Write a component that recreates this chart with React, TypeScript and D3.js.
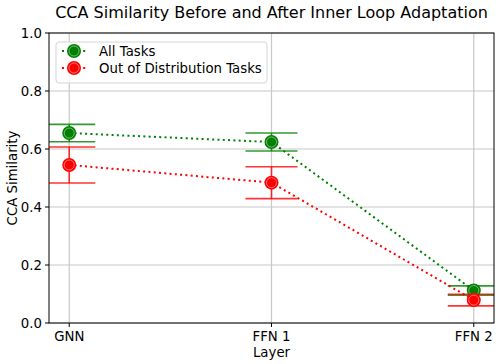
import React from "react";
import * as d3 from "d3";

const layers = ["GNN", "FFN 1", "FFN 2"];
const allTasksMean = [0.655, 0.624, 0.112];
const allTasksErr = [0.03, 0.031, 0.016];
const oodMean = [0.545, 0.484, 0.079];
const oodErr = [0.062, 0.055, 0.02];
const yTicks = [0, 0.2, 0.4, 0.6, 0.8, 1.0];
const seriesNames = ["All Tasks", "Out of Distribution Tasks"];
const seriesColors = ["#008000", "#ff0000"];

const W = 496, H = 364;
const left = 49, right = 494, top = 33, bottom = 323;
const FONT = "DejaVu Sans, sans-serif";
const FS = 13.3;

export default function App() {
  const x = d3.scaleLinear().domain([-0.1, 2.1]).range([left, right]);
  const y = d3.scaleLinear().domain([0, 1]).range([bottom, top]);
  const line = d3.line<number>().x((_, i) => x(i)).y((d) => y(d));
  const series = [
    { name: seriesNames[0], mean: allTasksMean, err: allTasksErr, color: seriesColors[0] },
    { name: seriesNames[1], mean: oodMean, err: oodErr, color: seriesColors[1] },
  ];
  const cap = 26;
  const marker = (cx: number, cy: number, color: string, key?: any) => (
    <g key={key}>
      <circle cx={cx} cy={cy} r={7} fill={color} />
      <circle cx={cx} cy={cy} r={5} fill="none" stroke="#ffffff" strokeOpacity={0.55} strokeWidth={0.8} />
    </g>
  );
  return (
    <div style={{ position: "absolute", left: 0, top: 0 }}>
      <svg width={W} height={H} style={{ display: "block", fontFamily: FONT }}>
        <rect width={W} height={H} fill="#fff" />
        <defs>
          <clipPath id="ax">
            <rect x={left} y={top} width={right - left} height={bottom - top} />
          </clipPath>
        </defs>
        {yTicks.map((t) => (
          <line key={"gy" + t} x1={left} x2={right} y1={y(t)} y2={y(t)} stroke="#c8c8c8" strokeWidth={1.2} />
        ))}
        {layers.map((l, i) => (
          <line key={"gx" + l} x1={x(i)} x2={x(i)} y1={top} y2={bottom} stroke="#c8c8c8" strokeWidth={1.2} />
        ))}
        <g clipPath="url(#ax)">
          {series.map((s) => (
            <g key={s.name}>
              <path d={line(s.mean) || ""} fill="none" stroke={s.color} strokeWidth={2} strokeDasharray="2 3.3" />
              {s.mean.map((m, i) => (
                <g key={i} stroke={s.color} strokeOpacity={0.8} strokeWidth={1.6}>
                  <line x1={x(i)} x2={x(i)} y1={y(m - s.err[i])} y2={y(m + s.err[i])} />
                  <line x1={x(i) - cap} x2={x(i) + cap} y1={y(m - s.err[i])} y2={y(m - s.err[i])} />
                  <line x1={x(i) - cap} x2={x(i) + cap} y1={y(m + s.err[i])} y2={y(m + s.err[i])} />
                </g>
              ))}
              {s.mean.map((m, i) => marker(x(i), y(m), s.color, "m" + i))}
            </g>
          ))}
        </g>
        <rect x={left} y={top} width={right - left} height={bottom - top} fill="none" stroke="#000" strokeWidth={1} />
        {yTicks.map((t) => (
          <g key={"ty" + t}>
            <line x1={left - 4} x2={left} y1={y(t)} y2={y(t)} stroke="#000" />
            <text x={left - 7} y={y(t)} dy="0.36em" textAnchor="end" fontSize={FS} fill="#000">
              {d3.format(".1f")(t)}
            </text>
          </g>
        ))}
        {layers.map((l, i) => (
          <g key={"tx" + l}>
            <line x1={x(i)} x2={x(i)} y1={bottom} y2={bottom + 4} stroke="#000" />
            <text x={x(i)} y={bottom + 18} textAnchor="middle" fontSize={FS} fill="#000">
              {l}
            </text>
          </g>
        ))}
        <text x={(left + right) / 2} y={357} textAnchor="middle" fontSize={FS} fill="#000">Layer</text>
        <text transform={`translate(17,${(top + bottom) / 2}) rotate(-90)`} textAnchor="middle" fontSize={FS} fill="#000">
          CCA Similarity
        </text>
        <text x={(left + right) / 2} y={18} textAnchor="middle" fontSize={16} fill="#000">
          CCA Similarity Before and After Inner Loop Adaptation
        </text>
        <rect x={56} y={42} width={211} height={41} rx={3} fill="#fff" fillOpacity={0.8} stroke="#d5d5d5" />
        {series.map((s, i) => {
          const ly = 51 + i * 17;
          return (
            <g key={"lg" + i}>
              <line x1={62} x2={87} y1={ly} y2={ly} stroke={s.color} strokeWidth={2} strokeDasharray="2 3.3" />
              {marker(74, ly, s.color)}
              <text x={99} y={ly} dy="0.36em" fontSize={FS} fill="#000">{s.name}</text>
            </g>
          );
        })}
      </svg>
    </div>
  );
}
